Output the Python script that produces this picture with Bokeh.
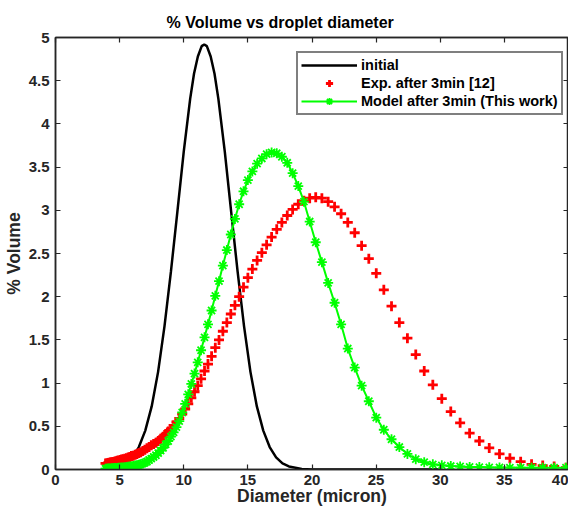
from bokeh.plotting import figure
from bokeh.models import Range1d, LinearAxis, FixedTicker, CustomJSTickFormatter
from bokeh.embed import file_html
from bokeh.resources import INLINE

# ---------------- data ----------------
diameter = [3.90, 3.99, 4.09, 4.18, 4.28, 4.38, 4.48, 4.59, 4.70, 4.81,
            4.92, 5.04, 5.15, 5.27, 5.40, 5.53, 5.66, 5.79, 5.92, 6.06,
            6.21, 6.35, 6.50, 6.65, 6.81, 6.97, 7.13, 7.30, 7.47, 7.65,
            7.83, 8.01, 8.20, 8.39, 8.59, 8.79, 9.00, 9.21, 9.43, 9.65,
            9.88, 10.11, 10.35, 10.59, 10.84, 11.09, 11.35, 11.62, 11.89, 12.17,
            12.46, 12.75, 13.05, 13.36, 13.67, 13.99, 14.32, 14.66, 15.00, 15.35,
            15.72, 16.09, 16.46, 16.85, 17.25, 17.65, 18.07, 18.49, 18.93, 19.37,
            19.82, 20.29, 20.77, 21.26, 21.76, 22.27, 22.79, 23.33, 23.87, 24.43,
            25.01, 25.60, 26.20, 26.81, 27.44, 28.09, 28.75, 29.42, 30.12, 30.82,
            31.55, 32.29, 33.05, 33.82, 34.62, 35.43, 36.27, 37.12, 37.99, 38.88,
            39.80]

exp_volume = [0.070, 0.070, 0.075, 0.078, 0.080, 0.083, 0.086, 0.090, 0.095, 0.100,
              0.105, 0.110, 0.115, 0.120, 0.125, 0.130, 0.140, 0.145, 0.155, 0.160,
              0.170, 0.180, 0.190, 0.200, 0.215, 0.230, 0.245, 0.260, 0.280, 0.295,
              0.310, 0.330, 0.355, 0.380, 0.410, 0.440, 0.470, 0.510, 0.550, 0.590,
              0.640, 0.700, 0.760, 0.830, 0.900, 0.970, 1.050, 1.140, 1.220, 1.310,
              1.410, 1.500, 1.600, 1.700, 1.800, 1.900, 2.000, 2.110, 2.220, 2.320,
              2.420, 2.510, 2.600, 2.690, 2.780, 2.860, 2.940, 3.010, 3.070, 3.110,
              3.140, 3.150, 3.140, 3.100, 3.040, 2.960, 2.860, 2.740, 2.590, 2.440,
              2.270, 2.080, 1.890, 1.700, 1.520, 1.330, 1.140, 0.980, 0.820, 0.670,
              0.540, 0.420, 0.330, 0.250, 0.180, 0.130, 0.090, 0.060, 0.045, 0.035,
              0.020]

model_volume = [0.010, 0.010, 0.012, 0.012, 0.013, 0.014, 0.015, 0.016, 0.017, 0.018,
                0.019, 0.020, 0.022, 0.024, 0.026, 0.028, 0.031, 0.034, 0.037, 0.041,
                0.045, 0.050, 0.055, 0.062, 0.070, 0.080, 0.090, 0.110, 0.125, 0.145,
                0.165, 0.190, 0.220, 0.250, 0.290, 0.330, 0.380, 0.430, 0.490, 0.560,
                0.660, 0.760, 0.870, 0.990, 1.110, 1.240, 1.380, 1.530, 1.680, 1.840,
                2.010, 2.180, 2.360, 2.540, 2.720, 2.900, 3.070, 3.220, 3.350, 3.450,
                3.540, 3.600, 3.650, 3.670, 3.660, 3.620, 3.550, 3.430, 3.280, 3.100,
                2.870, 2.630, 2.400, 2.160, 1.930, 1.680, 1.400, 1.180, 0.970, 0.790,
                0.600, 0.460, 0.350, 0.260, 0.180, 0.120, 0.085, 0.060, 0.048, 0.040,
                0.035, 0.030, 0.028, 0.025, 0.023, 0.022, 0.020, 0.020, 0.020, 0.020,
                0.020]

initial_diameter = [4.0, 5.0, 5.5, 6.0, 6.5, 7.0, 7.5, 8.0, 8.5, 9.0,
                    9.5, 10.0, 10.5, 10.8, 11.1, 11.4, 11.6, 11.8, 12.1, 12.4,
                    12.7, 13.2, 13.7, 14.2, 14.7, 15.2, 15.7, 16.2, 16.7, 17.2,
                    17.7, 18.2, 19.2, 20.0, 25.0, 30.0]
initial_volume = [0.007, 0.035, 0.07, 0.14, 0.26, 0.45, 0.73, 1.13, 1.66, 2.29,
                  2.98, 3.68, 4.29, 4.58, 4.78, 4.90, 4.92, 4.90, 4.78, 4.58,
                  4.29, 3.68, 2.98, 2.29, 1.66, 1.13, 0.73, 0.45, 0.26, 0.14,
                  0.07, 0.035, 0.007, 0.001, 0.0, 0.0]

x_ticks = [0, 5, 10, 15, 20, 25, 30, 35, 40]
y_ticks = [0, 0.5, 1, 1.5, 2, 2.5, 3, 3.5, 4, 4.5, 5]

title_text = "% Volume vs droplet diameter"
x_label = "Diameter (micron)"
y_label = "% Volume"
labels = ["initial", "Exp. after 3min [12]", "Model after 3min (This work)"]

# ---------------- styling ----------------
FONT = "Liberation Sans"
AX = "#262626"

p = figure(width=568, height=508, output_backend="svg", toolbar_location=None,
           x_range=Range1d(0, 40), y_range=Range1d(0, 5),
           min_border_left=49, min_border_right=0, min_border_top=37, min_border_bottom=0)
p.background_fill_color = "white"
p.border_fill_color = "white"
p.outline_line_color = AX
p.outline_line_width = 1.5
p.xgrid.grid_line_color = None
p.ygrid.grid_line_color = None

p.title.text = title_text
p.title.align = "left"
p.title.offset = 111
p.title.text_font = FONT
p.title.text_font_style = "bold"
p.title.text_font_size = "16px"
p.title.text_color = "black"
p.title.standoff = 14


def style_axis(ax, ticks):
    ax.ticker = FixedTicker(ticks=ticks)
    ax.axis_line_color = AX
    ax.axis_line_width = 1.5
    ax.major_tick_line_color = AX
    ax.major_tick_line_width = 1.2
    ax.major_tick_in = 5
    ax.major_tick_out = 0
    ax.minor_tick_line_color = None
    ax.major_label_text_font = FONT
    ax.major_label_text_font_style = "bold"
    ax.major_label_text_font_size = "15px"
    ax.major_label_text_color = AX
    ax.axis_label_text_font = FONT
    ax.axis_label_text_font_style = "bold"
    ax.axis_label_text_font_size = "17.5px"
    ax.axis_label_text_color = AX


style_axis(p.xaxis[0], x_ticks)
style_axis(p.yaxis[0], y_ticks)
p.xaxis[0].axis_label = x_label
p.yaxis[0].axis_label = y_label
p.xaxis[0].major_label_standoff = 5
p.yaxis[0].major_label_standoff = 6
p.xaxis[0].axis_label_standoff = -2
p.yaxis[0].axis_label_standoff = 2

top_ax = LinearAxis(formatter=CustomJSTickFormatter(code="return ''"))
right_ax = LinearAxis(formatter=CustomJSTickFormatter(code="return ''"))
for ax in (top_ax, right_ax):
    style_axis(ax, x_ticks if ax is top_ax else y_ticks)
    ax.major_label_text_font_size = "0px"
    ax.major_label_standoff = 0
    ax.axis_label_standoff = 0
p.add_layout(top_ax, "above")
p.add_layout(right_ax, "right")

# ---------------- glyphs ----------------
p.line(initial_diameter, initial_volume, line_color="black", line_width=2.5,
       legend_label=labels[0])
p.scatter(diameter, exp_volume, marker="cross", size=10, line_width=2.8,
          line_color="#ff0000", legend_label=labels[1])
p.line(diameter, model_volume, line_color="#00ff00", line_width=2,
       legend_label=labels[2])
p.scatter(diameter, model_volume, marker="asterisk", size=10, line_width=1.8,
          line_color="#00ff00", legend_label=labels[2])

lg = p.legend[0]
lg.location = (241, 354)
lg.padding = 3
lg.spacing = 0
lg.glyph_width = 56
lg.glyph_height = 18
lg.label_height = 18
lg.label_standoff = 4
lg.label_text_font = FONT
lg.label_text_font_style = "bold"
lg.label_text_font_size = "14.5px"
lg.label_text_color = "black"
lg.border_line_color = "black"
lg.border_line_width = 2
lg.background_fill_color = "white"
lg.background_fill_alpha = 1

open("out.html", "w").write(file_html(p, INLINE))
